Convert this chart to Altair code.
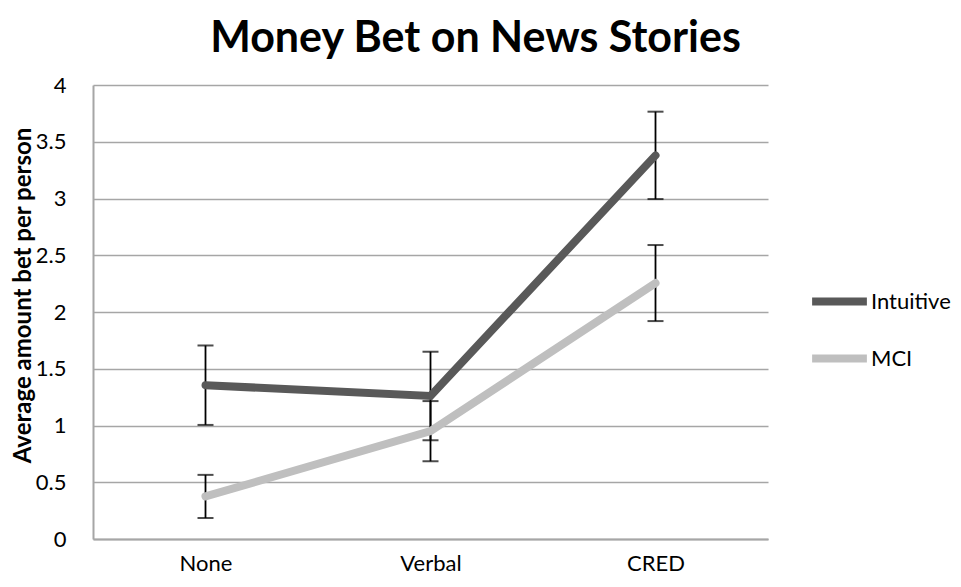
import altair as alt
import pandas as pd

categories = ["None", "Verbal", "CRED"]
series_names = ["Intuitive", "MCI"]
intuitive_mean = [1.355, 1.26, 3.38]
intuitive_err = [0.35, 0.39, 0.385]
mci_mean = [0.375, 0.95, 2.255]
mci_err = [0.19, 0.265, 0.335]
y_ticks = [0, 0.5, 1, 1.5, 2, 2.5, 3, 3.5, 4]

rows = []
for name, means, errs in [("Intuitive", intuitive_mean, intuitive_err), ("MCI", mci_mean, mci_err)]:
    for c, m, e in zip(categories, means, errs):
        rows.append({"cat": c, "series": name, "mean": m, "lo": m - e, "hi": m + e})
df = pd.DataFrame(rows)

FONT = "Lato"
x = alt.X("cat:N", sort=categories, title=None,
          scale=alt.Scale(type="point", padding=0.5),
          axis=alt.Axis(labelAngle=0, ticks=False, domain=True, domainColor="#a6a6a6",
                        domainWidth=2, grid=False, labelFontSize=22, labelFont=FONT,
                        labelColor="#000", labelPadding=14))
yscale = alt.Scale(domain=[0, 4], nice=False)

base = alt.Chart(df)

rule = base.mark_rule(color="#000", strokeWidth=1.8).encode(
    x=x, y=alt.Y("lo:Q", scale=yscale), y2="hi:Q")
cap_lo = base.mark_tick(color="#000", size=16, thickness=2).encode(
    x=x, y=alt.Y("lo:Q", scale=yscale))
cap_hi = base.mark_tick(color="#000", size=16, thickness=2).encode(
    x=x, y=alt.Y("hi:Q", scale=yscale))

line = base.mark_line(strokeWidth=8, strokeCap="round", strokeJoin="miter").encode(
    x=x,
    y=alt.Y("mean:Q", scale=yscale, title="Average amount bet per person",
            axis=alt.Axis(values=y_ticks, format="~g", ticks=False, grid=True,
                          gridColor="#a6a6a6", gridWidth=1.5, domainColor="#a6a6a6",
                          domainWidth=2, labelFontSize=22, labelFont=FONT, labelColor="#000",
                          labelPadding=27, titleFont=FONT, titleFontSize=24,
                          titleFontWeight="bold", titleColor="#000",
                          titleX=-70, titleY=210, titleAngle=270, titleBaseline="middle",
                          titleAlign="center")),
    color=alt.Color("series:N", sort=series_names,
                    scale=alt.Scale(domain=series_names, range=["#595959", "#bfbfbf"]),
                    legend=alt.Legend(title=None, orient="none", legendX=715, legendY=185,
                                      symbolType="stroke", symbolSize=3000,
                                      symbolStrokeWidth=8, labelFontSize=22, labelFont=FONT,
                                      labelColor="#000", labelOffset=0, rowPadding=9)),
    detail="series:N",
)

chart = alt.layer(rule, cap_lo, cap_hi, line).properties(
    width=675, height=454,
    title=alt.TitleParams("Money Bet on News Stories", fontSize=43, font=FONT,
                          fontWeight="bold", color="#000", anchor="middle", dx=45, offset=13),
    padding={"left": 85, "top": 77, "right": 185, "bottom": 40},
    autosize=alt.AutoSizeParams(type="none"),
).configure_view(stroke=None)

chart.save("out.html", embed_options={"renderer": "svg", "actions": False})
